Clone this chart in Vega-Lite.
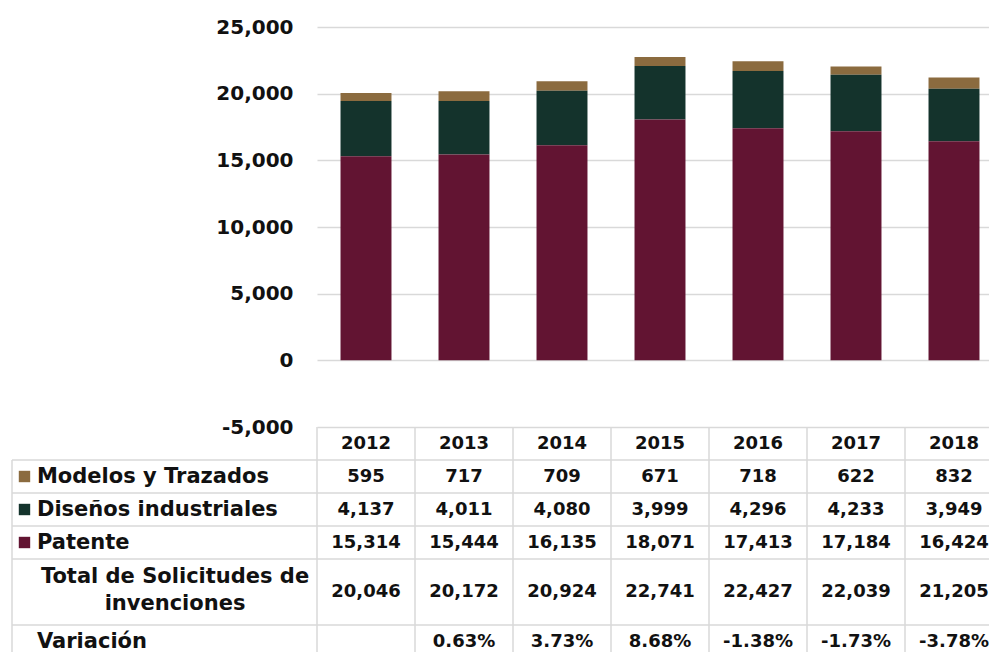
{
  "$schema": "https://vega.github.io/schema/vega-lite/v6.json",
  "padding": {"left": 11, "top": 17, "right": 0, "bottom": 0},
  "bounds": "flush",
  "spacing": 0,
  "resolve": {"scale": {"x": "independent", "y": "independent"}},
  "config": {
    "view": {"stroke": null},
    "font": "DejaVu Sans",
    "locale": {"number": {"decimal": ".", "thousands": ",", "grouping": [3], "currency": ["$", ""], "minus": "-"}}
  },
  "datasets": {
    "barras": [
      {"anio": "2012", "fila": "a", "valor": 595}, {"anio": "2012", "fila": "b", "valor": 4137}, {"anio": "2012", "fila": "c", "valor": 15314},
      {"anio": "2013", "fila": "a", "valor": 717}, {"anio": "2013", "fila": "b", "valor": 4011}, {"anio": "2013", "fila": "c", "valor": 15444},
      {"anio": "2014", "fila": "a", "valor": 709}, {"anio": "2014", "fila": "b", "valor": 4080}, {"anio": "2014", "fila": "c", "valor": 16135},
      {"anio": "2015", "fila": "a", "valor": 671}, {"anio": "2015", "fila": "b", "valor": 3999}, {"anio": "2015", "fila": "c", "valor": 18071},
      {"anio": "2016", "fila": "a", "valor": 718}, {"anio": "2016", "fila": "b", "valor": 4296}, {"anio": "2016", "fila": "c", "valor": 17413},
      {"anio": "2017", "fila": "a", "valor": 622}, {"anio": "2017", "fila": "b", "valor": 4233}, {"anio": "2017", "fila": "c", "valor": 17184},
      {"anio": "2018", "fila": "a", "valor": 832}, {"anio": "2018", "fila": "b", "valor": 3949}, {"anio": "2018", "fila": "c", "valor": 16424}
    ],
    "totales": [
      {"anio": "2012", "total": 20046, "variacion": null},
      {"anio": "2013", "total": 20172, "variacion": 0.0063},
      {"anio": "2014", "total": 20924, "variacion": 0.0373},
      {"anio": "2015", "total": 22741, "variacion": 0.0868},
      {"anio": "2016", "total": 22427, "variacion": -0.0138},
      {"anio": "2017", "total": 22039, "variacion": -0.0173},
      {"anio": "2018", "total": 21205, "variacion": -0.0378}
    ],
    "filas": [
      {"fila": "a", "nombre": "Modelos y Trazados"},
      {"fila": "b", "nombre": "Diseños industriales"},
      {"fila": "c", "nombre": "Patente"}
    ],
    "otras": [
      {"fila": "t", "nombre": "Total de Solicitudes de\ninvenciones"},
      {"fila": "v", "nombre": "Variación"}
    ],
    "lineas": [{"fila": "a"}, {"fila": "b"}, {"fila": "c"}, {"fila": "t"}, {"fila": "v"}]
  },
  "vconcat": [
    {
      "width": 991,
      "height": 400,
      "data": {"name": "barras"},
      "mark": {"type": "bar", "width": {"band": 0.52}},
      "encoding": {
        "x": {"field": "anio", "type": "ordinal", "scale": {"paddingInner": 0, "paddingOuter": 0, "range": [305, 991]}, "axis": null},
        "y": {
          "field": "valor", "type": "quantitative", "stack": "zero",
          "scale": {"domain": [-5000, 25000], "nice": false},
          "axis": {"values": [-5000, 0, 5000, 10000, 15000, 20000, 25000], "format": ",.0f", "title": null, "domain": false, "ticks": false, "offset": -305,
                   "labelFontSize": 20, "labelFontWeight": "bold", "labelColor": "#111111", "labelPadding": 24, "gridColor": "#d9d9d9", "gridWidth": 1.5}
        },
        "color": {"field": "fila", "type": "nominal", "scale": {"domain": ["a", "b", "c"], "range": ["#8b6b3f", "#14332c", "#621432"]}, "legend": null},
        "order": {"field": "fila", "sort": "descending"}
      }
    },
    {
      "width": 991,
      "height": 231,
      "resolve": {"scale": {"x": "independent"}},
      "encoding": {
        "y": {"field": "fila", "type": "ordinal", "scale": {"domain": ["h", "a", "b", "c", "t", "t2", "v"], "paddingInner": 0, "paddingOuter": 0}, "axis": null}
      },
      "layer": [
        {
          "data": {"name": "lineas"},
          "mark": {"type": "rule", "color": "#d9d9d9", "strokeWidth": 1.5},
          "encoding": {
            "y": {"field": "fila", "type": "ordinal", "bandPosition": 0}
          }
        },
        {
          "data": {"values": [{"borde": 1}]},
          "mark": {"type": "rule", "color": "#d9d9d9", "strokeWidth": 1.5},
          "encoding": {
            "x": {"datum": 0, "type": "quantitative", "scale": {"domain": [0, 1]}, "axis": null},
            "y": {"datum": "a", "type": "ordinal", "bandPosition": 0},
            "y2": {"datum": "v", "bandPosition": 1}
          }
        },
        {
          "data": {"name": "totales"},
          "mark": {"type": "rule", "color": "#d9d9d9", "strokeWidth": 1.5},
          "encoding": {
            "x": {"field": "anio", "type": "ordinal", "bandPosition": 0, "scale": {"domain": ["2012", "2013", "2014", "2015", "2016", "2017", "2018"], "paddingInner": 0, "paddingOuter": 0, "range": [305, 991]}, "axis": null},
            "y": null
          }
        },
        {
          "data": {"name": "filas"},
          "mark": {"type": "point", "shape": "square", "filled": true, "opacity": 1, "size": 130},
          "encoding": {
            "x": {"datum": 0.0126, "type": "quantitative", "scale": {"domain": [0, 1]}, "axis": null},
            "color": {"field": "fila", "type": "nominal", "scale": {"domain": ["a", "b", "c"], "range": ["#8b6b3f", "#14332c", "#621432"]}, "legend": null}
          }
        },
        {
          "data": {"name": "filas"},
          "mark": {"type": "text", "align": "left", "baseline": "middle", "fontSize": 21, "fontWeight": "bold", "color": "#111111"},
          "encoding": {
            "x": {"datum": 0.0252, "type": "quantitative", "scale": {"domain": [0, 1]}, "axis": null},
            "text": {"field": "nombre"}
          }
        },
        {
          "data": {"name": "otras"},
          "transform": [{"filter": "datum.fila == 't'"}],
          "mark": {"type": "text", "align": "center", "baseline": "middle", "fontSize": 21, "fontWeight": "bold", "color": "#111111", "lineBreak": "\n", "lineHeight": 27},
          "encoding": {
            "x": {"datum": 0.1645, "type": "quantitative", "scale": {"domain": [0, 1]}, "axis": null},
            "y": {"field": "fila", "type": "ordinal", "bandPosition": 0.55},
            "text": {"field": "nombre"}
          }
        },
        {
          "data": {"name": "otras"},
          "transform": [{"filter": "datum.fila == 'v'"}],
          "mark": {"type": "text", "align": "left", "baseline": "middle", "fontSize": 21, "fontWeight": "bold", "color": "#111111"},
          "encoding": {
            "x": {"datum": 0.0252, "type": "quantitative", "scale": {"domain": [0, 1]}, "axis": null},
            "text": {"field": "nombre"}
          }
        },
        {
          "data": {"name": "totales"},
          "mark": {"type": "text", "baseline": "middle", "fontSize": 18, "fontWeight": "bold", "color": "#111111"},
          "encoding": {
            "x": {"field": "anio", "type": "ordinal", "scale": {"domain": ["2012", "2013", "2014", "2015", "2016", "2017", "2018"], "paddingInner": 0, "paddingOuter": 0, "range": [305, 991]}, "axis": null},
            "y": {"datum": "h", "type": "ordinal"},
            "text": {"field": "anio"}
          }
        },
        {
          "data": {"name": "barras"},
          "mark": {"type": "text", "baseline": "middle", "fontSize": 18, "fontWeight": "bold", "color": "#111111"},
          "encoding": {
            "x": {"field": "anio", "type": "ordinal", "scale": {"domain": ["2012", "2013", "2014", "2015", "2016", "2017", "2018"], "paddingInner": 0, "paddingOuter": 0, "range": [305, 991]}, "axis": null},
            "text": {"field": "valor", "type": "quantitative", "format": ",.0f"}
          }
        },
        {
          "data": {"name": "totales"},
          "mark": {"type": "text", "baseline": "middle", "fontSize": 18, "fontWeight": "bold", "color": "#111111"},
          "encoding": {
            "x": {"field": "anio", "type": "ordinal", "scale": {"domain": ["2012", "2013", "2014", "2015", "2016", "2017", "2018"], "paddingInner": 0, "paddingOuter": 0, "range": [305, 991]}, "axis": null},
            "y": {"datum": "t", "type": "ordinal", "bandPosition": 1},
            "text": {"field": "total", "type": "quantitative", "format": ",.0f"}
          }
        },
        {
          "data": {"name": "totales"},
          "transform": [{"filter": "isValid(datum.variacion)"}],
          "mark": {"type": "text", "baseline": "middle", "fontSize": 18, "fontWeight": "bold", "color": "#111111"},
          "encoding": {
            "x": {"field": "anio", "type": "ordinal", "scale": {"domain": ["2012", "2013", "2014", "2015", "2016", "2017", "2018"], "paddingInner": 0, "paddingOuter": 0, "range": [305, 991]}, "axis": null},
            "y": {"datum": "v", "type": "ordinal"},
            "text": {"field": "variacion", "type": "quantitative", "format": ".2%"}
          }
        }
      ]
    }
  ]
}
